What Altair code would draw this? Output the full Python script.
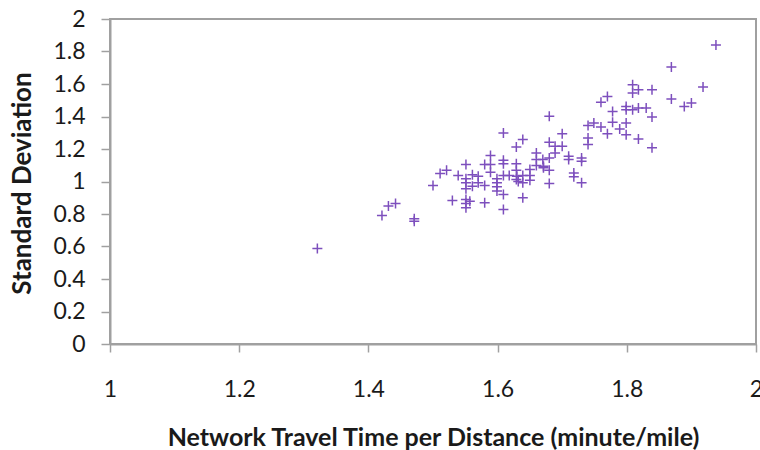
import altair as alt
import pandas as pd

# Network travel time per distance (minute/mile) for each sampled route
travel_time = [
    1.321, 1.421, 1.431, 1.442, 1.471, 1.471, 1.500, 1.511, 1.521, 1.530,
    1.539, 1.551, 1.551, 1.551, 1.551, 1.551, 1.551, 1.551, 1.557, 1.561,
    1.561, 1.570, 1.570, 1.580, 1.580, 1.580, 1.589, 1.589, 1.589, 1.599,
    1.599, 1.599, 1.599, 1.609, 1.609, 1.609, 1.609, 1.609, 1.609, 1.618,
    1.629, 1.629, 1.629, 1.629, 1.632, 1.630, 1.639, 1.639, 1.639, 1.639,
    1.650, 1.650, 1.650, 1.660, 1.660, 1.660, 1.670, 1.671, 1.671, 1.680,
    1.680, 1.680, 1.680, 1.680, 1.689, 1.689, 1.700, 1.700, 1.710, 1.710,
    1.718, 1.718, 1.730, 1.730, 1.730, 1.740, 1.740, 1.740, 1.749, 1.760,
    1.760, 1.770, 1.770, 1.778, 1.778, 1.789, 1.799, 1.799, 1.799, 1.799,
    1.809, 1.809, 1.809, 1.818, 1.818, 1.818, 1.830, 1.839, 1.839, 1.839,
    1.869, 1.869, 1.889, 1.900, 1.918, 1.938,
]

# Standard deviation of the travel time for the same routes
std_dev = [
    0.587, 0.791, 0.849, 0.865, 0.771, 0.755, 0.975, 1.049, 1.069, 0.883,
    1.037, 1.104, 1.017, 0.992, 0.955, 0.890, 0.865, 0.838, 0.879, 1.041,
    0.971, 1.033, 0.992, 1.104, 0.975, 0.869, 1.160, 1.104, 1.057, 1.017,
    0.992, 0.967, 0.941, 1.299, 1.131, 1.110, 1.037, 0.920, 0.828, 1.037,
    1.213, 1.110, 1.069, 1.012, 1.000, 1.033, 1.258, 1.037, 0.992, 0.900,
    1.074, 1.037, 1.008, 1.176, 1.135, 1.098, 1.135, 1.094, 1.084, 1.401,
    1.241, 1.145, 1.069, 0.988, 1.217, 1.176, 1.294, 1.217, 1.155, 1.135,
    1.053, 1.029, 1.145, 1.125, 0.992, 1.344, 1.268, 1.227, 1.360, 1.487,
    1.335, 1.523, 1.294, 1.431, 1.364, 1.323, 1.462, 1.442, 1.360, 1.288,
    1.595, 1.544, 1.442, 1.564, 1.452, 1.262, 1.452, 1.564, 1.397, 1.207,
    1.704, 1.507, 1.462, 1.483, 1.581, 1.840,
]

x_ticks = [1, 1.2, 1.4, 1.6, 1.8, 2]
y_ticks = [0, 0.2, 0.4, 0.6, 0.8, 1, 1.2, 1.4, 1.6, 1.8, 2]

df = pd.DataFrame({"time": travel_time, "sd": std_dev})

GRAY = "#a0a0a0"
FONT = "Lato"
PLUS = "M-1,0H1M0,-1V1"

chart = (
    alt.Chart(df)
    .mark_point(shape=PLUS, filled=False, size=100, strokeWidth=1.5,
                color="#7d4fbd", opacity=1)
    .encode(
        x=alt.X(
            "time:Q",
            scale=alt.Scale(domain=[1, 2], nice=False, zero=False),
            axis=alt.Axis(
                values=x_ticks, format="~g",
                title="Network Travel Time per Distance (minute/mile)",
                titleX=323, titleY=93, titleBaseline="middle", titleAnchor="middle",
                titleFontSize=25,
                labelPadding=26, tickSize=8, labelFlush=False,
            ),
        ),
        y=alt.Y(
            "sd:Q",
            scale=alt.Scale(domain=[0, 2], nice=False),
            axis=alt.Axis(
                values=y_ticks, format="~g", title="Standard Deviation",
                titleX=-88, titleY=164, titleBaseline="middle", titleAnchor="middle",
                titleFontSize=26,
                labelPadding=16, tickSize=9, labelFlush=False,
            ),
        ),
    )
    .properties(
        width=646,
        height=325,
        autosize=alt.AutoSizeParams(type="none"),
        padding={"left": 110, "top": 19, "right": 4, "bottom": 106},
        background="white",
    )
    .configure_view(stroke=GRAY, strokeWidth=2)
    .configure_axis(
        grid=False,
        domainColor=GRAY,
        domainWidth=2,
        tickColor=GRAY,
        tickWidth=1.5,
        labelFont=FONT,
        labelFontSize=23,
        labelColor="#1a1a1a",
        titleFont=FONT,
        titleFontWeight="bold",
        titleColor="#1a1a1a",
    )
)

chart.save("out.html", embed_options={"renderer": "svg", "actions": False})
